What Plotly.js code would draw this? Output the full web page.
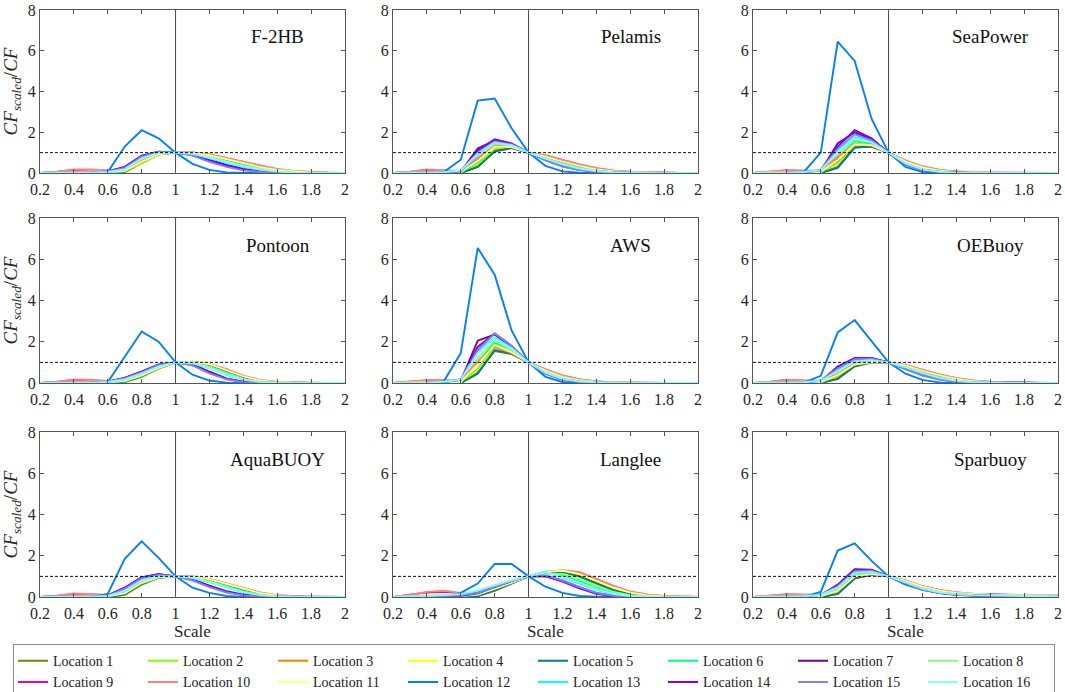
<!DOCTYPE html>
<html>
<head>
<meta charset="utf-8">
<script src="https://cdn.plot.ly/plotly-3.0.1.min.js"></script>
<style>html,body{margin:0;padding:0;background:#fff;}#chart{width:1065px;height:692px;}</style>
</head>
<body>
<div id="chart"></div>
<script>
// ---- data ----
const scaleX = [0.2,0.3,0.4,0.5,0.6,0.7,0.8,0.9,1.0,1.1,1.2,1.3,1.4,1.5,1.6,1.7,1.8,1.9,2.0];
const xTickVals = [0.2,0.4,0.6,0.8,1,1.2,1.4,1.6,1.8,2];
const xTickText = ['0.2','0.4','0.6','0.8','1','1.2','1.4','1.6','1.8','2'];
const yTickVals = [0,2,4,6,8];
const locationNames = ['Location 1','Location 2','Location 3','Location 4','Location 5','Location 6','Location 7','Location 8',
  'Location 9','Location 10','Location 11','Location 12','Location 13','Location 14','Location 15','Location 16'];
const locationColors = ['#808000','#80ff00','#ff8000','#ffff00','#008080','#00ff80','#800080','#80ff80',
  '#ff0080','#ff8080','#ffff80','#0080ff','#00ffff','#8000ff','#8080ff','#80ffff'];
const deviceNames = ['F-2HB','Pelamis','SeaPower','Pontoon','AWS','OEBuoy','AquaBUOY','Langlee','Sparbuoy'];

const f2hb = [
[0,0,0,0,0,0.05,0.5,0.92,1,0.98,0.85,0.65,0.45,0.27,0.14,0.06,0.02,0.01,0],
[0,0,0,0,0,0.04,0.45,0.9,1,0.97,0.82,0.62,0.42,0.25,0.12,0.05,0.02,0,0],
[0,0,0.02,0.03,0.03,0.08,0.55,0.93,1,1.0,0.88,0.7,0.5,0.3,0.16,0.07,0.03,0.01,0],
[0,0,0.01,0.02,0.02,0.07,0.52,0.92,1,0.99,0.86,0.67,0.47,0.28,0.15,0.06,0.02,0.01,0],
[0,0,0,0,0,0.06,0.55,0.93,1,0.97,0.83,0.63,0.43,0.25,0.12,0.05,0.02,0,0],
[0,0,0,0.01,0.02,0.1,0.6,0.95,1,0.96,0.8,0.58,0.38,0.21,0.1,0.04,0.01,0,0],
[0,0,0.01,0.03,0.08,0.3,0.85,1.05,1,0.9,0.65,0.4,0.2,0.08,0.03,0.01,0,0,0],
[0,0,0,0.01,0.03,0.15,0.65,0.97,1,0.95,0.78,0.56,0.36,0.2,0.09,0.03,0.01,0,0],
[0,0.05,0.15,0.15,0.1,0.12,0.55,0.92,1,1.0,0.9,0.72,0.52,0.33,0.18,0.08,0.03,0.01,0],
[0,0.06,0.17,0.17,0.12,0.15,0.58,0.93,1,1.01,0.92,0.75,0.55,0.36,0.2,0.1,0.04,0.01,0],
[0,0.02,0.06,0.07,0.05,0.1,0.55,0.92,1,0.99,0.87,0.68,0.48,0.29,0.15,0.07,0.02,0.01,0],
[0,0,0,0,0.05,1.3,2.1,1.7,1,0.45,0.15,0.03,0,0,0,0,0,0,0],
[0,0,0.01,0.02,0.05,0.2,0.75,1.0,1,0.93,0.72,0.5,0.3,0.15,0.06,0.02,0,0,0],
[0,0,0.01,0.03,0.08,0.28,0.82,1.05,1,0.88,0.6,0.35,0.17,0.07,0.02,0.01,0,0,0],
[0,0,0.01,0.03,0.07,0.25,0.8,1.03,1,0.85,0.55,0.3,0.13,0.05,0.02,0,0,0,0],
[0,0,0.01,0.02,0.05,0.18,0.72,0.99,1,0.94,0.75,0.53,0.33,0.17,0.07,0.02,0.01,0,0]];

const pelamis = [
[0,0,0,0,0,0.3,1.1,1.25,1,0.75,0.48,0.28,0.14,0.06,0.02,0.01,0,0,0],
[0,0,0,0,0.01,0.4,1.2,1.28,1,0.74,0.46,0.26,0.13,0.05,0.02,0,0,0,0],
[0,0,0.03,0.04,0.04,0.55,1.3,1.3,1,0.8,0.55,0.33,0.17,0.08,0.03,0.01,0,0,0],
[0,0,0.02,0.03,0.03,0.6,1.3,1.3,1,0.78,0.52,0.31,0.16,0.07,0.03,0.01,0,0,0],
[0,0,0,0,0,0.3,1.05,1.22,1,0.76,0.5,0.3,0.15,0.07,0.03,0.01,0,0,0],
[0,0,0,0.01,0.02,0.55,1.35,1.32,1,0.73,0.45,0.25,0.12,0.05,0.02,0,0,0,0],
[0,0,0.01,0.03,0.06,1.2,1.6,1.4,1,0.65,0.36,0.18,0.08,0.03,0.01,0,0,0,0],
[0,0,0.01,0.02,0.04,0.7,1.4,1.33,1,0.72,0.44,0.24,0.11,0.05,0.02,0,0,0,0],
[0,0.05,0.15,0.12,0.08,0.7,1.3,1.25,1,0.85,0.62,0.4,0.22,0.11,0.05,0.02,0.01,0,0],
[0,0.06,0.17,0.14,0.1,0.75,1.32,1.27,1,0.87,0.65,0.43,0.25,0.13,0.06,0.02,0.01,0,0],
[0,0.02,0.06,0.06,0.05,0.6,1.28,1.28,1,0.8,0.56,0.35,0.18,0.09,0.04,0.01,0,0,0],
[0,0,0,0.05,0.65,3.55,3.65,2.2,1,0.35,0.08,0.01,0,0,0,0,0,0,0],
[0,0,0.02,0.04,0.1,0.9,1.5,1.38,1,0.7,0.4,0.2,0.09,0.04,0.01,0,0,0,0],
[0,0,0.01,0.03,0.08,1.1,1.65,1.45,1,0.63,0.33,0.16,0.07,0.03,0.01,0,0,0,0],
[0,0,0.02,0.04,0.1,1.0,1.55,1.4,1,0.62,0.32,0.15,0.06,0.02,0.01,0,0,0,0],
[0,0,0.02,0.04,0.12,0.95,1.5,1.36,1,0.71,0.42,0.22,0.1,0.04,0.01,0,0,0,0]];

const seapower = [
[0,0,0,0,0,0.3,1.25,1.3,1,0.5,0.22,0.09,0.03,0.01,0,0,0,0,0],
[0,0,0,0,0.01,0.5,1.35,1.35,1,0.5,0.21,0.08,0.03,0.01,0,0,0,0,0],
[0,0,0.03,0.04,0.05,0.6,1.4,1.35,1,0.55,0.26,0.11,0.04,0.01,0,0,0,0,0],
[0,0,0.02,0.03,0.04,0.65,1.45,1.38,1,0.54,0.25,0.1,0.04,0.01,0,0,0,0,0],
[0,0,0,0,0,0.25,1.25,1.3,1,0.52,0.24,0.1,0.04,0.01,0,0,0,0,0],
[0,0,0,0.01,0.03,0.7,1.55,1.45,1,0.5,0.2,0.08,0.03,0.01,0,0,0,0,0],
[0,0,0.01,0.03,0.1,1.45,2.0,1.65,1,0.45,0.17,0.06,0.02,0,0,0,0,0,0],
[0,0,0.01,0.02,0.06,0.9,1.65,1.5,1,0.48,0.19,0.07,0.02,0.01,0,0,0,0,0],
[0,0.05,0.12,0.1,0.08,0.75,1.4,1.35,1,0.6,0.3,0.14,0.06,0.02,0.01,0,0,0,0],
[0,0.06,0.14,0.12,0.1,0.8,1.42,1.35,1,0.62,0.33,0.16,0.07,0.03,0.01,0,0,0,0],
[0,0.02,0.05,0.05,0.05,0.65,1.4,1.37,1,0.56,0.27,0.11,0.04,0.01,0,0,0,0,0],
[0,0,0,0.05,1.0,6.45,5.5,2.65,1,0.3,0.05,0,0,0,0,0,0,0,0],
[0,0,0.02,0.05,0.12,1.1,1.75,1.55,1,0.46,0.17,0.06,0.02,0,0,0,0,0,0],
[0,0,0.01,0.04,0.12,1.3,2.1,1.7,1,0.42,0.15,0.05,0.01,0,0,0,0,0,0],
[0,0,0.02,0.05,0.15,1.2,1.9,1.6,1,0.42,0.15,0.05,0.01,0,0,0,0,0,0],
[0,0,0.02,0.05,0.13,1.05,1.7,1.52,1,0.47,0.18,0.06,0.02,0,0,0,0,0,0]];

const pontoon = [
[0,0,0,0,0,0.05,0.3,0.7,1,1.0,0.85,0.55,0.25,0.08,0.02,0,0,0,0],
[0,0,0,0,0,0.05,0.3,0.7,1,1.0,0.88,0.6,0.28,0.1,0.03,0.01,0,0,0],
[0,0,0.03,0.04,0.03,0.08,0.35,0.72,1,1.02,0.9,0.62,0.32,0.12,0.04,0.01,0,0,0],
[0,0,0.02,0.03,0.02,0.07,0.33,0.71,1,1.02,0.92,0.65,0.33,0.13,0.04,0.01,0,0,0],
[0,0,0,0,0,0.06,0.32,0.72,1,1.0,0.84,0.55,0.25,0.08,0.02,0,0,0,0],
[0,0,0,0.01,0.02,0.1,0.38,0.75,1,0.98,0.8,0.5,0.22,0.07,0.02,0,0,0,0],
[0,0,0.01,0.03,0.06,0.25,0.55,0.88,1,0.9,0.55,0.22,0.06,0.01,0,0,0,0,0],
[0,0,0.01,0.02,0.04,0.13,0.42,0.78,1,0.97,0.78,0.47,0.2,0.06,0.01,0,0,0,0],
[0,0.05,0.15,0.14,0.08,0.12,0.38,0.74,1,1.02,0.9,0.62,0.3,0.11,0.04,0.01,0,0,0],
[0,0.06,0.17,0.16,0.1,0.14,0.4,0.75,1,1.03,0.93,0.68,0.36,0.15,0.06,0.02,0.01,0,0],
[0,0.02,0.06,0.06,0.04,0.1,0.36,0.73,1,1.02,0.91,0.63,0.32,0.12,0.04,0.01,0,0,0],
[0,0,0,0,0.05,1.25,2.5,2.0,1,0.4,0.12,0.02,0,0,0,0,0,0,0],
[0,0,0.01,0.02,0.05,0.18,0.48,0.82,1,0.95,0.72,0.4,0.15,0.04,0.01,0,0,0,0],
[0,0,0.01,0.03,0.06,0.25,0.55,0.9,1,0.88,0.5,0.2,0.05,0.01,0,0,0,0,0],
[0,0,0.01,0.03,0.06,0.22,0.52,0.87,1,0.85,0.47,0.18,0.04,0.01,0,0,0,0,0],
[0,0,0.01,0.02,0.05,0.17,0.46,0.8,1,0.96,0.74,0.42,0.17,0.05,0.01,0,0,0,0]];

const aws = [
[0,0,0,0,0,0.5,1.55,1.4,1,0.55,0.25,0.1,0.04,0.01,0,0,0,0,0],
[0,0,0,0,0.01,0.7,1.7,1.45,1,0.55,0.24,0.09,0.03,0.01,0,0,0,0,0],
[0,0,0.03,0.04,0.05,0.9,1.8,1.5,1,0.6,0.3,0.12,0.05,0.02,0,0,0,0,0],
[0,0,0.02,0.03,0.04,0.95,1.85,1.5,1,0.58,0.28,0.11,0.04,0.01,0,0,0,0,0],
[0,0,0,0,0,0.45,1.6,1.42,1,0.56,0.26,0.1,0.04,0.01,0,0,0,0,0],
[0,0,0,0.01,0.03,1.0,1.95,1.55,1,0.55,0.24,0.09,0.03,0.01,0,0,0,0,0],
[0,0,0.01,0.03,0.1,2.05,2.35,1.75,1,0.48,0.19,0.07,0.02,0,0,0,0,0,0],
[0,0,0.01,0.02,0.06,1.2,2.05,1.6,1,0.52,0.22,0.08,0.03,0.01,0,0,0,0,0],
[0,0.05,0.12,0.12,0.08,1.0,1.8,1.48,1,0.65,0.35,0.17,0.07,0.03,0.01,0,0,0,0],
[0,0.06,0.14,0.14,0.1,1.05,1.75,1.45,1,0.67,0.37,0.18,0.08,0.03,0.01,0,0,0,0],
[0,0.02,0.05,0.06,0.05,0.9,1.85,1.5,1,0.6,0.3,0.13,0.05,0.02,0,0,0,0,0],
[0,0,0,0.08,1.45,6.55,5.25,2.55,1,0.3,0.05,0,0,0,0,0,0,0,0],
[0,0,0.02,0.06,0.15,1.5,2.2,1.7,1,0.5,0.2,0.07,0.02,0,0,0,0,0,0],
[0,0,0.01,0.05,0.15,1.75,2.4,1.8,1,0.45,0.17,0.06,0.02,0,0,0,0,0,0],
[0,0,0.02,0.06,0.18,1.6,2.4,1.8,1,0.45,0.17,0.06,0.02,0,0,0,0,0,0],
[0,0,0.02,0.06,0.16,1.45,2.15,1.68,1,0.5,0.2,0.07,0.02,0,0,0,0,0,0]];

const oebuoy = [
[0,0,0,0,0,0.2,0.8,1.0,1,0.8,0.55,0.33,0.17,0.08,0.03,0.01,0,0,0],
[0,0,0,0,0.01,0.3,0.85,1.0,1,0.8,0.53,0.31,0.16,0.07,0.03,0.01,0,0,0],
[0,0,0.03,0.04,0.04,0.35,0.9,1.02,1,0.83,0.58,0.36,0.19,0.09,0.04,0.01,0,0,0],
[0,0,0.02,0.03,0.03,0.4,0.92,1.02,1,0.82,0.57,0.35,0.18,0.08,0.03,0.01,0,0,0],
[0,0,0,0,0,0.2,0.82,1.0,1,0.8,0.55,0.33,0.17,0.08,0.03,0.01,0,0,0],
[0,0,0,0.01,0.03,0.42,0.95,1.05,1,0.78,0.5,0.28,0.13,0.05,0.02,0,0,0,0],
[0,0,0.01,0.03,0.08,0.8,1.2,1.2,1,0.7,0.4,0.2,0.08,0.03,0.01,0,0,0,0],
[0,0,0.01,0.02,0.05,0.5,1.0,1.08,1,0.77,0.48,0.26,0.12,0.05,0.02,0,0,0,0],
[0,0.05,0.15,0.12,0.08,0.4,0.92,1.02,1,0.86,0.62,0.4,0.22,0.11,0.05,0.02,0.01,0,0],
[0,0.06,0.16,0.14,0.1,0.42,0.93,1.02,1,0.87,0.64,0.42,0.24,0.12,0.06,0.02,0.01,0,0],
[0,0.02,0.06,0.06,0.04,0.38,0.9,1.02,1,0.84,0.59,0.37,0.2,0.09,0.04,0.01,0,0,0],
[0,0,0,0.02,0.35,2.45,3.05,2.0,1,0.45,0.15,0.03,0,0,0,0,0,0,0],
[0,0,0.02,0.04,0.1,0.6,1.08,1.12,1,0.75,0.45,0.24,0.1,0.04,0.01,0,0,0,0],
[0,0,0.01,0.03,0.1,0.75,1.22,1.22,1,0.68,0.38,0.18,0.07,0.02,0.01,0,0,0,0],
[0,0,0.02,0.04,0.12,0.7,1.15,1.18,1,0.66,0.36,0.17,0.06,0.02,0,0,0,0,0],
[0,0,0.02,0.04,0.1,0.58,1.05,1.1,1,0.76,0.47,0.25,0.11,0.04,0.01,0,0,0,0]];

const aquabuoy = [
[0,0,0,0,0,0.1,0.6,0.93,1,0.97,0.82,0.58,0.33,0.15,0.06,0.02,0,0,0],
[0,0,0,0,0,0.12,0.62,0.93,1,0.96,0.8,0.56,0.31,0.14,0.05,0.02,0,0,0],
[0,0,0.03,0.04,0.04,0.18,0.68,0.95,1,0.99,0.86,0.63,0.38,0.18,0.07,0.02,0.01,0,0],
[0,0,0.02,0.03,0.03,0.17,0.66,0.95,1,0.98,0.85,0.62,0.37,0.17,0.07,0.02,0,0,0],
[0,0,0,0,0,0.12,0.63,0.94,1,0.96,0.8,0.56,0.31,0.14,0.05,0.02,0,0,0],
[0,0,0,0.01,0.02,0.22,0.72,0.97,1,0.95,0.77,0.52,0.28,0.12,0.04,0.01,0,0,0],
[0,0,0.01,0.03,0.08,0.45,0.95,1.1,1,0.85,0.55,0.28,0.11,0.04,0.01,0,0,0,0],
[0,0,0.01,0.02,0.04,0.28,0.77,0.99,1,0.93,0.74,0.48,0.25,0.1,0.03,0.01,0,0,0],
[0,0.05,0.15,0.14,0.08,0.2,0.7,0.96,1,0.99,0.87,0.65,0.4,0.2,0.08,0.03,0.01,0,0],
[0,0.06,0.17,0.15,0.1,0.22,0.72,0.97,1,1.0,0.88,0.67,0.43,0.22,0.09,0.03,0.01,0,0],
[0,0.02,0.06,0.06,0.04,0.18,0.68,0.95,1,0.99,0.86,0.64,0.39,0.19,0.08,0.02,0.01,0,0],
[0,0,0,0,0.15,1.85,2.7,1.9,1,0.45,0.2,0.05,0,0,0,0,0,0,0],
[0,0,0.01,0.02,0.05,0.32,0.82,1.0,1,0.92,0.72,0.46,0.22,0.08,0.02,0.01,0,0,0],
[0,0,0.01,0.03,0.08,0.45,0.95,1.1,1,0.83,0.52,0.25,0.09,0.03,0.01,0,0,0,0],
[0,0,0.01,0.03,0.07,0.4,0.9,1.07,1,0.8,0.48,0.22,0.08,0.02,0.01,0,0,0,0],
[0,0,0.01,0.02,0.05,0.3,0.8,1.0,1,0.93,0.73,0.47,0.24,0.09,0.03,0.01,0,0,0]];

const langlee = [
[0,0,0,0,0,0.05,0.3,0.65,1,1.2,1.25,1.05,0.7,0.38,0.17,0.06,0.02,0,0],
[0,0,0,0,0,0.06,0.33,0.67,1,1.18,1.2,0.98,0.62,0.32,0.13,0.05,0.01,0,0],
[0,0,0.05,0.07,0.05,0.1,0.4,0.7,1,1.22,1.28,1.12,0.78,0.44,0.2,0.08,0.03,0.01,0],
[0,0,0.03,0.05,0.04,0.1,0.38,0.7,1,1.22,1.27,1.1,0.76,0.42,0.19,0.07,0.02,0,0],
[0,0,0,0,0,0.05,0.32,0.66,1,1.2,1.22,1.0,0.65,0.34,0.14,0.05,0.02,0,0],
[0,0,0,0.01,0.03,0.12,0.42,0.72,1,1.15,1.05,0.78,0.45,0.2,0.07,0.02,0,0,0],
[0,0,0.01,0.03,0.06,0.2,0.5,0.78,1,1.02,0.8,0.48,0.2,0.06,0.01,0,0,0,0],
[0,0,0.01,0.03,0.05,0.14,0.45,0.74,1,1.15,1.1,0.85,0.52,0.25,0.09,0.03,0.01,0,0],
[0,0.1,0.22,0.25,0.18,0.15,0.42,0.72,1,1.2,1.28,1.15,0.85,0.5,0.24,0.1,0.04,0.01,0],
[0,0.1,0.25,0.3,0.2,0.18,0.45,0.74,1,1.22,1.3,1.22,0.9,0.55,0.27,0.12,0.05,0.02,0],
[0,0.04,0.1,0.12,0.08,0.12,0.4,0.71,1,1.22,1.27,1.12,0.8,0.46,0.21,0.08,0.03,0.01,0],
[0,0,0,0.02,0.2,0.65,1.6,1.6,1,0.5,0.2,0.05,0.01,0,0,0,0,0,0],
[0,0.01,0.04,0.08,0.12,0.3,0.55,0.8,1,1.22,0.95,0.65,0.35,0.14,0.04,0.01,0,0,0],
[0,0,0.01,0.03,0.06,0.18,0.48,0.77,1,1.0,0.75,0.42,0.15,0.04,0.01,0,0,0,0],
[0,0,0.01,0.04,0.08,0.2,0.5,0.78,1,1.05,0.8,0.48,0.2,0.06,0.01,0,0,0,0],
[0,0.01,0.05,0.1,0.14,0.32,0.58,0.81,1,1.2,0.98,0.7,0.38,0.16,0.05,0.01,0,0,0]];

const sparbuoy = [
[0,0,0,0,0,0.15,0.9,1.08,1,0.75,0.46,0.28,0.17,0.12,0.09,0.08,0.07,0.06,0.06],
[0,0,0,0,0.01,0.25,0.95,1.1,1,0.74,0.45,0.27,0.16,0.11,0.09,0.07,0.06,0.06,0.05],
[0,0.01,0.06,0.07,0.06,0.3,1.0,1.12,1,0.78,0.5,0.31,0.2,0.14,0.11,0.09,0.08,0.08,0.07],
[0,0,0.04,0.05,0.05,0.3,1.0,1.12,1,0.77,0.49,0.3,0.19,0.13,0.1,0.09,0.08,0.07,0.07],
[0,0,0,0,0,0.15,0.9,1.08,1,0.75,0.46,0.28,0.17,0.12,0.09,0.08,0.07,0.06,0.06],
[0,0,0,0.01,0.03,0.35,1.05,1.15,1,0.73,0.43,0.25,0.15,0.1,0.08,0.07,0.06,0.05,0.05],
[0,0,0.01,0.03,0.08,0.6,1.35,1.32,1,0.7,0.38,0.21,0.12,0.08,0.06,0.05,0.04,0.04,0.03],
[0,0,0.01,0.02,0.05,0.4,1.1,1.18,1,0.72,0.42,0.24,0.14,0.1,0.08,0.06,0.05,0.05,0.04],
[0,0.05,0.12,0.1,0.08,0.3,0.98,1.1,1,0.8,0.52,0.33,0.22,0.15,0.12,0.1,0.09,0.08,0.08],
[0,0.06,0.14,0.12,0.1,0.32,1.0,1.1,1,0.8,0.53,0.34,0.22,0.16,0.12,0.1,0.09,0.09,0.08],
[0,0.02,0.06,0.06,0.05,0.3,1.0,1.12,1,0.78,0.5,0.31,0.2,0.14,0.11,0.09,0.08,0.07,0.07],
[0,0,0,0.02,0.25,2.25,2.6,1.75,1,0.6,0.35,0.2,0.12,0.08,0.06,0.05,0.04,0.04,0.03],
[0,0,0.02,0.04,0.1,0.45,1.15,1.2,1,0.7,0.4,0.22,0.13,0.09,0.07,0.06,0.05,0.04,0.04],
[0,0,0.01,0.03,0.1,0.55,1.3,1.3,1,0.68,0.36,0.19,0.11,0.07,0.05,0.04,0.04,0.03,0.03],
[0,0,0.02,0.04,0.12,0.52,1.25,1.27,1,0.67,0.36,0.19,0.11,0.07,0.05,0.04,0.04,0.03,0.03],
[0,0,0.02,0.04,0.1,0.45,1.18,1.22,1,0.71,0.41,0.23,0.14,0.09,0.07,0.06,0.05,0.05,0.04]];

const deviceData = [f2hb, pelamis, seapower, pontoon, aws, oebuoy, aquabuoy, langlee, sparbuoy];

// ---- layout ----
const W = 1065, H = 692;
const colPx = [[40,345],[393,698],[753,1058]];
const rowPx = [[10,173],[218,383],[432,597]];
const FONT = "'Liberation Serif', 'DejaVu Serif', serif";

const traces = [];
const layout = {
  width: W, height: H,
  margin: {l:0, r:0, t:0, b:0, autoexpand: false},
  paper_bgcolor: '#fff', plot_bgcolor: '#fff',
  showlegend: true,
  legend: {
    orientation: 'h', x: 13/W, y: 1 - 644/H, xanchor: 'left', yanchor: 'top',
    bordercolor: '#8c8c8c', borderwidth: 1.2,
    entrywidth: 85, entrywidthmode: 'pixels',
    font: {family: FONT, size: 14, color: '#222'},
    tracegroupgap: 0, itemwidth: 30
  },
  shapes: [], annotations: []
};

deviceData.forEach((dev, i) => {
  const r = Math.floor(i / 3), c = i % 3;
  const ax = i === 0 ? '' : String(i + 1);
  const xa = 'xaxis' + ax, ya = 'yaxis' + ax;
  layout[xa] = {
    domain: [colPx[c][0] / W, colPx[c][1] / W],
    anchor: 'y' + ax, range: [0.2, 2],
    tickmode: 'array', tickvals: xTickVals, ticktext: xTickText,
    ticks: 'inside', ticklen: 4, tickcolor: '#555', tickwidth: 1,
    showline: true, linecolor: '#555', linewidth: 1, mirror: 'ticks',
    showgrid: false, zeroline: false, ticklabelstandoff: 2,
    tickfont: {family: FONT, size: 16, color: '#262626'},
    title: r === 2 ? {text: 'Scale', font: {family: FONT, size: 17, color: '#262626'}, standoff: 2} : {text: ''}
  };
  layout[ya] = {
    domain: [1 - rowPx[r][1] / H, 1 - rowPx[r][0] / H],
    anchor: 'x' + ax, range: [0, 8],
    tickmode: 'array', tickvals: yTickVals,
    ticks: 'inside', ticklen: 4, tickcolor: '#555', tickwidth: 1,
    showline: true, linecolor: '#555', linewidth: 1, mirror: 'ticks',
    showgrid: false, zeroline: false,
    tickfont: {family: FONT, size: 16, color: '#262626'},
    title: c === 0 ? {text: '<i>CF</i><sub><i>scaled</i></sub>/<i>CF</i>', font: {family: FONT, size: 19, color: '#262626'}, standoff: 6} : {text: ''}
  };
  dev.forEach((vals, j) => {
    traces.push({
      type: 'scatter', mode: 'lines', x: scaleX, y: vals,
      xaxis: 'x' + ax, yaxis: 'y' + ax,
      name: locationNames[j], legendgroup: 'loc' + j, showlegend: i === 0,
      line: {color: locationColors[j], width: 1.9},
      hoverinfo: 'skip'
    });
  });
  layout.shapes.push({type: 'line', xref: 'x' + ax, yref: 'y' + ax + ' domain', x0: 1, x1: 1, y0: 0, y1: 1,
    line: {color: '#444', width: 1}, layer: 'below'});
  layout.shapes.push({type: 'line', xref: 'x' + ax + ' domain', yref: 'y' + ax, x0: 0, x1: 1, y0: 1, y1: 1,
    line: {color: '#111', width: 1, dash: '3px,2px'}, layer: 'above'});
  layout.annotations.push({xref: 'x' + ax + ' domain', yref: 'y' + ax + ' domain', x: 0.78, y: 0.835,
    xanchor: 'center', yanchor: 'middle', showarrow: false, text: deviceNames[i],
    font: {family: FONT, size: 19, color: '#111'}});
});

Plotly.newPlot('chart', traces, layout, {displayModeBar: false, staticPlot: true});
</script>
</body>
</html>
